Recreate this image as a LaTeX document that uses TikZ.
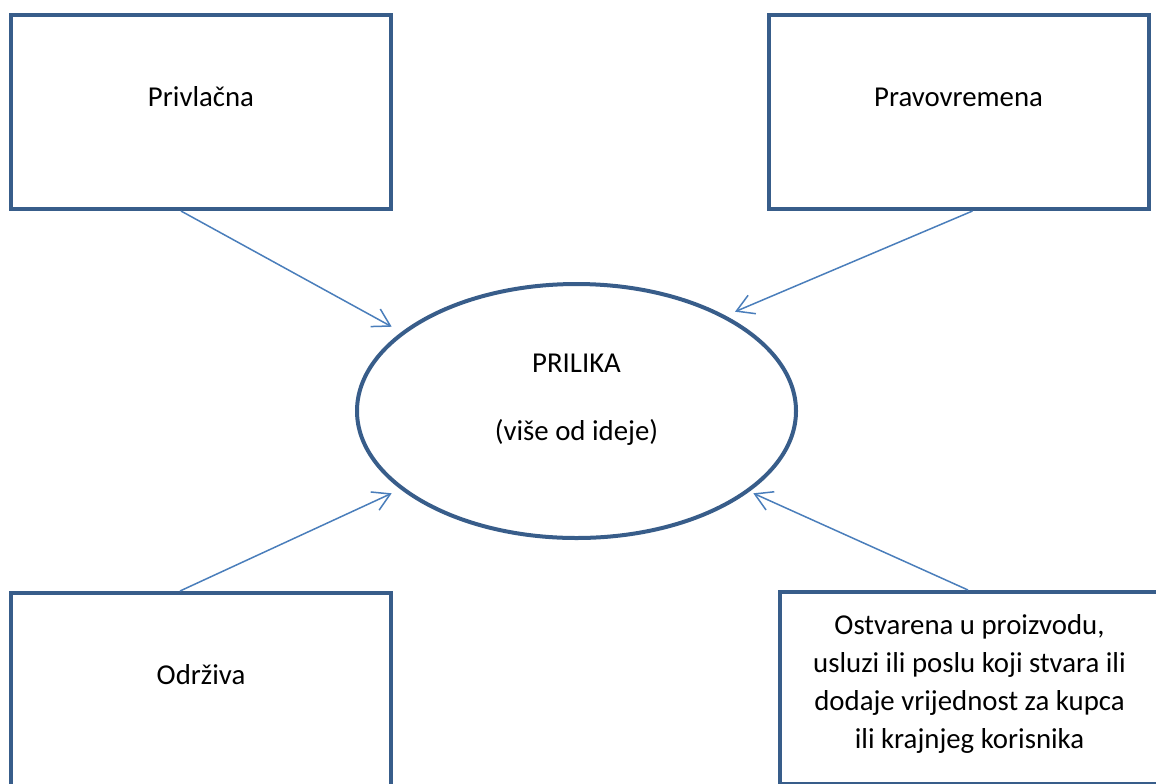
\documentclass[tikz,border=0pt]{standalone}
\usepackage{fontspec}
\setmainfont{Carlito}
\usetikzlibrary{shapes.geometric,arrows.meta}

\definecolor{boxblue}{HTML}{385D8A}
\definecolor{arrowblue}{HTML}{4A7EBB}

\tikzset{
  box/.style={draw=boxblue, line width=2pt, fill=white, minimum width=190pt,
    minimum height=97pt, inner sep=0pt, text height=9pt, text depth=15pt},
  oval/.style={ellipse, draw=boxblue, line width=2pt, minimum width=219.5pt,
    minimum height=127pt, inner sep=0pt, align=center},
  arrowline/.style={draw=arrowblue, line width=0.75pt,
    -{Straight Barb[length=8.5pt,width=10pt]}}
}

\begin{document}
\begin{tikzpicture}[x=0.5pt,y=-0.5pt,font=\fontsize{14.4pt}{18.85pt}\selectfont]

\useasboundingbox (0,0) rectangle (1156,783);
\clip (0,0) rectangle (1156,783);

\node[box] (privlacna) at (201,112) {Privlačna};
\node[box] (pravovremena) at (958.5,112) {Pravovremena};
\node[box] (odrziva) at (201,690) {Održiva};
\node[box, minimum height=96pt, align=center, text height=65.5pt, text depth=5.5pt] (ostvarena) at (969.5,688)
  {Ostvarena u proizvodu,\\usluzi ili poslu koji stvara ili\\dodaje vrijednost za kupca\\ili krajnjeg korisnika};

\node[oval, text height=44pt, text depth=14.3pt] (prilika) at (576.5,411) {PRILIKA\\[15.5pt](više od ideje)};

% arrow tips stop just short of the oval
\coordinate (tipA) at (391.7,326.7);
\coordinate (tipB) at (735,311.7);
\coordinate (tipC) at (391.7,493.3);
\coordinate (tipD) at (753.3,493.3);

\draw[arrowline] ([xshift=-10pt]privlacna.south) -- (tipA);
\draw[arrowline] ([xshift=7pt]pravovremena.south) -- (tipB);
\draw[arrowline] ([xshift=-10.5pt]odrziva.north) -- (tipC);
\draw[arrowline] ([xshift=-0.75pt]ostvarena.north) -- (tipD);

\end{tikzpicture}
\end{document}
